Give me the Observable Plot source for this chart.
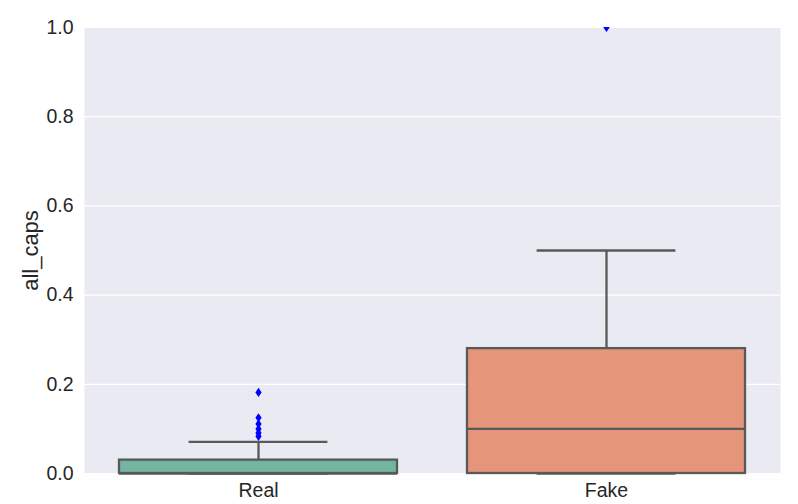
<!DOCTYPE html>
<html>
<head>
<meta charset="utf-8">
<script src="https://cdn.jsdelivr.net/npm/d3@7"></script>
<script src="https://cdn.jsdelivr.net/npm/@observablehq/plot@0.6"></script>
<style>
  html, body { margin: 0; padding: 0; background: #ffffff; }
  #chart { width: 798px; height: 504px; }
</style>
</head>
<body>
<div id="chart"></div>
<script>
// Data
const categories = ["Real", "Fake"];
const q1 = [0.0, 0.0];
const medians = [0.0, 0.1];
const q3 = [0.03, 0.28];
const whiskerLow = [0.0, 0.0];
const whiskerHigh = [0.071, 0.5];
const boxColors = ["#72b6a1", "#e5967a"];
const outlierCategory = ["Real", "Real", "Real", "Real", "Real", "Real", "Fake"];
const outlierValues = [0.0833, 0.0909, 0.1, 0.1111, 0.125, 0.1818, 1.0];
const yTicks = [0, 0.2, 0.4, 0.6, 0.8, 1.0];

const boxes = categories.map((c, i) => ({
  cat: c, q1: q1[i], med: medians[i], q3: q3[i],
  lo: whiskerLow[i], hi: whiskerHigh[i], color: boxColors[i]
}));
const fliers = outlierValues.map((v, i) => ({cat: outlierCategory[i], v}));

// thin diamond marker like matplotlib "d"
const thinDiamond = {
  draw(context, size) {
    const r = Math.sqrt(size / Math.PI);
    const h = r, w = r * 0.68;
    context.moveTo(0, -h);
    context.lineTo(w, 0);
    context.lineTo(0, h);
    context.lineTo(-w, 0);
    context.closePath();
  }
};

const lineColor = "#595959";
const textColor = "#262626";

const chart = Plot.plot({
  width: 798,
  height: 504,
  marginLeft: 84,
  marginRight: 18,
  marginTop: 27,
  marginBottom: 31,
  style: { fontFamily: "'Liberation Sans', Arial, sans-serif", color: textColor, background: "#ffffff", overflow: "visible" },
  x: { type: "band", domain: categories, paddingInner: 0.2, paddingOuter: 0.1, align: 0.5 },
  y: { domain: [0, 1] },
  marks: [
    Plot.frame({ fill: "#eaeaf2", stroke: null }),
    Plot.gridY(yTicks, { stroke: "#ffffff", strokeOpacity: 1, strokeWidth: 1.2 }),
    Plot.ruleX(boxes, { x: "cat", y1: "lo", y2: "hi", stroke: lineColor, strokeWidth: 2.3 }),
    Plot.tickY(boxes, { x: "cat", y: "hi", stroke: lineColor, strokeWidth: 2.3, insetLeft: 69.6, insetRight: 69.6 }),
    Plot.tickY(boxes, { x: "cat", y: "lo", stroke: lineColor, strokeWidth: 2.3, insetLeft: 69.6, insetRight: 69.6 }),
    Plot.barY(boxes, { x: "cat", y1: "q1", y2: "q3", fill: "color", stroke: lineColor, strokeWidth: 2.3, insetLeft: 0, insetRight: 0 }),
    Plot.tickY(boxes, { x: "cat", y: "med", stroke: lineColor, strokeWidth: 2.3 }),
    Plot.dot(fliers, { x: "cat", y: "v", r: 4.6, symbol: thinDiamond, fill: "#0000ff", stroke: null, clip: "frame" }),
    Plot.axisY(yTicks, {
      tickSize: 0, tickPadding: 11, tickFormat: d3.format(".1f"),
      fontSize: 19.5, fill: textColor,
      label: "all_caps", labelAnchor: "center", labelArrow: "none", labelOffset: 62
    }),
    Plot.axisX({ tickSize: 0, tickPadding: 10, fontSize: 19.5, fill: textColor, label: null })
  ]
});

// y label slightly larger than tick labels (as in the reference)
chart.querySelectorAll("g[aria-label='y-axis label'] text, g[aria-label='y-axis label']").forEach(el => {
  el.setAttribute("font-size", "22");
});
document.getElementById("chart").appendChild(chart);
</script>
</body>
</html>
